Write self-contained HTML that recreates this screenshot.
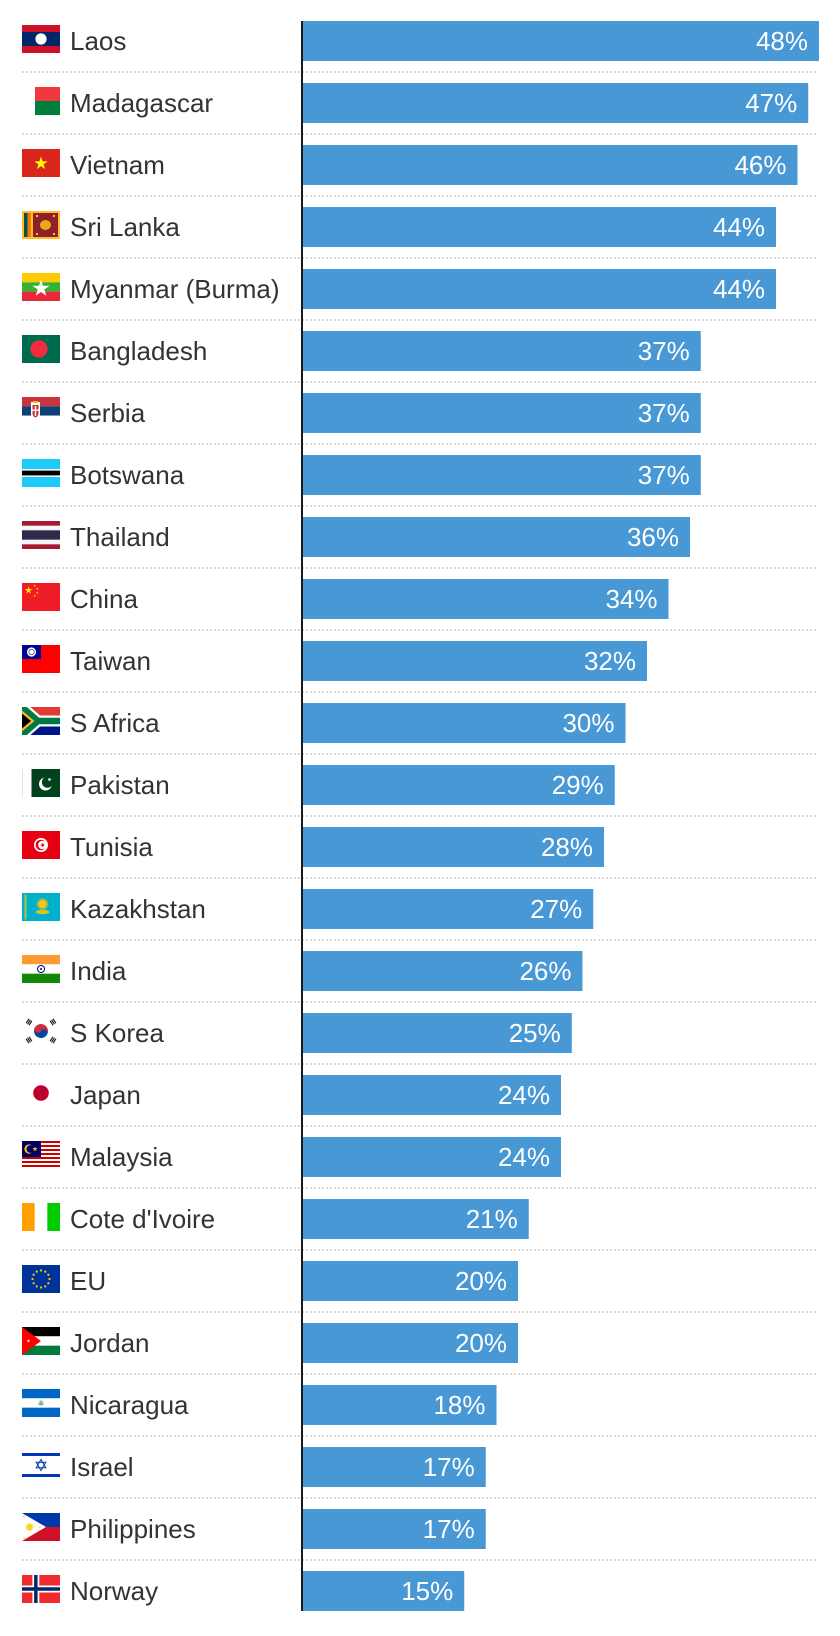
<!DOCTYPE html>
<html><head><meta charset="utf-8"><style>
html,body{margin:0;padding:0;background:#fff}
svg{display:block}
.n{font-family:"Liberation Sans",sans-serif;font-size:26px;fill:#333}
.v{font-family:"Liberation Sans",sans-serif;font-size:26px;fill:#fff;text-anchor:end}
.b{fill:#4898d6}
</style></head><body>
<svg width="840" height="1636" viewBox="0 0 840 1636" xmlns="http://www.w3.org/2000/svg">
<defs><polygon id="st" points="0,-1 .2245,-.309 .951,-.309 .3633,.118 .588,.809 0,.382 -.588,.809 -.3633,.118 -.951,-.309 -.2245,-.309"/>
<clipPath id="fc"><rect width="38" height="28"/></clipPath></defs>
<rect width="840" height="1636" fill="#fff"/>
<path d="M22 72H818M22 134H818M22 196H818M22 258H818M22 320H818M22 382H818M22 444H818M22 506H818M22 568H818M22 630H818M22 692H818M22 754H818M22 816H818M22 878H818M22 940H818M22 1002H818M22 1064H818M22 1126H818M22 1188H818M22 1250H818M22 1312H818M22 1374H818M22 1436H818M22 1498H818M22 1560H818" stroke="#d9d9d9" stroke-width="2" stroke-dasharray="2 2" fill="none"/>

<!-- 0 Laos -->
<g transform="translate(0,0)">
<g transform="translate(22,25)"><rect width="38" height="28" fill="#ce1126"/><rect y="7" width="38" height="14" fill="#002868"/><circle cx="19" cy="14" r="5.6" fill="#fff"/></g>
<text x="70" y="50" class="n">Laos</text><rect x="303" y="21" width="516" height="40" class="b"/><text x="808" y="50" class="v">48%</text></g>

<!-- 1 Madagascar -->
<g transform="translate(0,62)">
<g transform="translate(22,25)"><rect x="13" width="25" height="14" fill="#f0393f"/><rect x="13" y="14" width="25" height="14" fill="#007e3a"/></g>
<text x="70" y="50" class="n">Madagascar</text><rect x="303" y="21" width="505.25" height="40" class="b"/><text x="797.25" y="50" class="v">47%</text></g>

<!-- 2 Vietnam -->
<g transform="translate(0,124)">
<g transform="translate(22,25)"><rect width="38" height="28" fill="#da251d"/><use href="#st" transform="translate(19,14.5) scale(7)" fill="#ff0"/></g>
<text x="70" y="50" class="n">Vietnam</text><rect x="303" y="21" width="494.5" height="40" class="b"/><text x="786.5" y="50" class="v">46%</text></g>

<!-- 3 Sri Lanka -->
<g transform="translate(0,186)">
<g transform="translate(22,25)"><rect width="38" height="28" fill="#ffbe29"/><rect x="2" y="2" width="3.5" height="24" fill="#00534e"/><rect x="5.5" y="2" width="3.5" height="24" fill="#f57a00"/><rect x="11" y="2" width="25" height="24" fill="#8d2029"/><ellipse cx="23.5" cy="14" rx="5.5" ry="5" fill="#e8a820"/><rect x="14" y="4" width="2" height="2" fill="#ffbe29"/><rect x="31" y="4" width="2" height="2" fill="#ffbe29"/><rect x="14" y="22" width="2" height="2" fill="#ffbe29"/><rect x="31" y="22" width="2" height="2" fill="#ffbe29"/></g>
<text x="70" y="50" class="n">Sri Lanka</text><rect x="303" y="21" width="473" height="40" class="b"/><text x="765" y="50" class="v">44%</text></g>

<!-- 4 Myanmar -->
<g transform="translate(0,248)">
<g transform="translate(22,25)"><rect width="38" height="9.33" fill="#fecb00"/><rect y="9.33" width="38" height="9.34" fill="#34b233"/><rect y="18.67" width="38" height="9.33" fill="#ea2839"/><use href="#st" transform="translate(19,15.5) scale(9)" fill="#fff"/></g>
<text x="70" y="50" class="n">Myanmar (Burma)</text><rect x="303" y="21" width="473" height="40" class="b"/><text x="765" y="50" class="v">44%</text></g>

<!-- 5 Bangladesh -->
<g transform="translate(0,310)">
<g transform="translate(22,25)"><rect width="38" height="28" fill="#006a4e"/><circle cx="17" cy="14" r="8.6" fill="#f42a41"/></g>
<text x="70" y="50" class="n">Bangladesh</text><rect x="303" y="21" width="397.75" height="40" class="b"/><text x="689.75" y="50" class="v">37%</text></g>

<!-- 6 Serbia -->
<g transform="translate(0,372)">
<g transform="translate(22,25)"><rect width="38" height="9.33" fill="#c6363c"/><rect y="9.33" width="38" height="9.34" fill="#0c4076"/><rect y="18.67" width="38" height="9.33" fill="#fff"/><path d="M9 5h9v12q0 5-4.5 6q-4.5-1-4.5-6z" fill="#fff"/><path d="M10.5 8h6v8q0 3.5-3 4.5q-3-1-3-4.5z" fill="#c6363c"/><rect x="12.8" y="9" width="1.4" height="10" fill="#fff"/><rect x="10.5" y="12.5" width="6" height="1.4" fill="#fff"/><rect x="11" y="4" width="5" height="2" fill="#e8b830"/></g>
<text x="70" y="50" class="n">Serbia</text><rect x="303" y="21" width="397.75" height="40" class="b"/><text x="689.75" y="50" class="v">37%</text></g>

<!-- 7 Botswana -->
<g transform="translate(0,434)">
<g transform="translate(22,25)"><rect width="38" height="28" fill="#1ccbf7"/><rect y="10" width="38" height="8" fill="#fff"/><rect y="11.6" width="38" height="4.8" fill="#000"/></g>
<text x="70" y="50" class="n">Botswana</text><rect x="303" y="21" width="397.75" height="40" class="b"/><text x="689.75" y="50" class="v">37%</text></g>

<!-- 8 Thailand -->
<g transform="translate(0,496)">
<g transform="translate(22,25)"><rect width="38" height="28" fill="#a51931"/><rect y="4.67" width="38" height="18.66" fill="#f4f5f8"/><rect y="9.33" width="38" height="9.34" fill="#2d2a4a"/></g>
<text x="70" y="50" class="n">Thailand</text><rect x="303" y="21" width="387" height="40" class="b"/><text x="679" y="50" class="v">36%</text></g>

<!-- 9 China -->
<g transform="translate(0,558)">
<g transform="translate(22,25)"><rect width="38" height="28" fill="#ee1c25"/><use href="#st" transform="translate(6.5,7.3) scale(4.2)" fill="#ffde00"/><use href="#st" transform="translate(12.7,2.8) scale(1.4)" fill="#ffde00"/><use href="#st" transform="translate(15.2,5.8) scale(1.4)" fill="#ffde00"/><use href="#st" transform="translate(15.2,9.8) scale(1.4)" fill="#ffde00"/><use href="#st" transform="translate(12.7,12.8) scale(1.4)" fill="#ffde00"/></g>
<text x="70" y="50" class="n">China</text><rect x="303" y="21" width="365.5" height="40" class="b"/><text x="657.5" y="50" class="v">34%</text></g>

<!-- 10 Taiwan -->
<g transform="translate(0,620)">
<g transform="translate(22,25)"><rect width="38" height="28" fill="#fe0000"/><rect width="19" height="14" fill="#000095"/><circle cx="9.5" cy="7" r="4.6" fill="#fff"/><circle cx="9.5" cy="7" r="3" fill="#000095"/><circle cx="9.5" cy="7" r="2.4" fill="#fff"/></g>
<text x="70" y="50" class="n">Taiwan</text><rect x="303" y="21" width="344" height="40" class="b"/><text x="636" y="50" class="v">32%</text></g>

<!-- 11 S Africa -->
<g transform="translate(0,682)">
<g transform="translate(22,25)"><g clip-path="url(#fc)"><rect width="38" height="14" fill="#e03c31"/><rect y="14" width="38" height="14" fill="#001489"/><path d="M0 0L16 14L38 14M0 28L16 14" stroke="#fff" stroke-width="11" fill="none"/><path d="M0 0L16 14L38 14M0 28L16 14" stroke="#007749" stroke-width="6.4" fill="none"/><polygon points="0,3.5 12.5,14 0,24.5" fill="#ffb81c"/><polygon points="0,6.5 9,14 0,21.5" fill="#000"/></g></g>
<text x="70" y="50" class="n">S Africa</text><rect x="303" y="21" width="322.5" height="40" class="b"/><text x="614.5" y="50" class="v">30%</text></g>

<!-- 12 Pakistan -->
<g transform="translate(0,744)">
<g transform="translate(22,25)"><rect width="0.8" height="28" fill="#d8d8d8"/><rect x="9.5" width="28.5" height="28" fill="#01411c"/><circle cx="23.5" cy="15" r="6.5" fill="#fff"/><circle cx="25.5" cy="13.2" r="5.6" fill="#01411c"/><use href="#st" transform="translate(27.5,10.5) rotate(20) scale(2.2)" fill="#fff"/></g>
<text x="70" y="50" class="n">Pakistan</text><rect x="303" y="21" width="311.75" height="40" class="b"/><text x="603.75" y="50" class="v">29%</text></g>

<!-- 13 Tunisia -->
<g transform="translate(0,806)">
<g transform="translate(22,25)"><rect width="38" height="28" fill="#e70013"/><circle cx="19" cy="14" r="7" fill="#fff"/><circle cx="19" cy="14" r="5.3" fill="#e70013"/><circle cx="20.4" cy="14" r="4.3" fill="#fff"/><use href="#st" transform="translate(20.6,14) rotate(-90) scale(2.6)" fill="#e70013"/></g>
<text x="70" y="50" class="n">Tunisia</text><rect x="303" y="21" width="301" height="40" class="b"/><text x="593" y="50" class="v">28%</text></g>

<!-- 14 Kazakhstan -->
<g transform="translate(0,868)">
<g transform="translate(22,25)"><rect width="38" height="28" fill="#00afca"/><rect x="2.5" y="1.5" width="2" height="25" fill="#fec50c" opacity=".7"/><circle cx="20.5" cy="11" r="6" fill="#fec50c" opacity=".45"/><circle cx="20.5" cy="11" r="4" fill="#fec50c"/><ellipse cx="20.5" cy="19" rx="7" ry="2.2" fill="#fec50c" opacity=".85"/></g>
<text x="70" y="50" class="n">Kazakhstan</text><rect x="303" y="21" width="290.25" height="40" class="b"/><text x="582.25" y="50" class="v">27%</text></g>

<!-- 15 India -->
<g transform="translate(0,930)">
<g transform="translate(22,25)"><rect width="38" height="9.33" fill="#ff9933"/><rect y="9.33" width="38" height="9.34" fill="#fff"/><rect y="18.67" width="38" height="9.33" fill="#138808"/><circle cx="19" cy="14" r="3.5" fill="none" stroke="#000080" stroke-width="1"/><circle cx="19" cy="14" r="1" fill="#000080"/></g>
<text x="70" y="50" class="n">India</text><rect x="303" y="21" width="279.5" height="40" class="b"/><text x="571.5" y="50" class="v">26%</text></g>

<!-- 16 S Korea -->
<g transform="translate(0,992)">
<g transform="translate(22,25)"><g transform="translate(19,14) rotate(30)"><path d="M-7 0A7 7 0 0 1 7 0z" fill="#cd2e3a"/><path d="M-7 0A7 7 0 0 0 7 0z" fill="#0047a0"/><circle cx="-3.5" cy="0" r="3.5" fill="#cd2e3a"/><circle cx="3.5" cy="0" r="3.5" fill="#0047a0"/></g>
<g transform="translate(7,5) rotate(-56)" fill="#111"><rect x="-2.6" y="-2.3" width="5.2" height="1.1"/><rect x="-2.6" y="-0.55" width="5.2" height="1.1"/><rect x="-2.6" y="1.2" width="5.2" height="1.1"/></g>
<g transform="translate(31,5) rotate(56)" fill="#111"><rect x="-2.6" y="-2.3" width="5.2" height="1.1"/><rect x="-2.6" y="-0.55" width="5.2" height="1.1"/><rect x="-2.6" y="1.2" width="5.2" height="1.1"/></g>
<g transform="translate(7,23) rotate(56)" fill="#111"><rect x="-2.6" y="-2.3" width="5.2" height="1.1"/><rect x="-2.6" y="-0.55" width="5.2" height="1.1"/><rect x="-2.6" y="1.2" width="5.2" height="1.1"/></g>
<g transform="translate(31,23) rotate(-56)" fill="#111"><rect x="-2.6" y="-2.3" width="5.2" height="1.1"/><rect x="-2.6" y="-0.55" width="5.2" height="1.1"/><rect x="-2.6" y="1.2" width="5.2" height="1.1"/></g></g>
<text x="70" y="50" class="n">S Korea</text><rect x="303" y="21" width="268.75" height="40" class="b"/><text x="560.75" y="50" class="v">25%</text></g>

<!-- 17 Japan -->
<g transform="translate(0,1054)">
<g transform="translate(22,25)"><circle cx="19" cy="14" r="7.8" fill="#bc002d"/></g>
<text x="70" y="50" class="n">Japan</text><rect x="303" y="21" width="258" height="40" class="b"/><text x="550" y="50" class="v">24%</text></g>

<!-- 18 Malaysia -->
<g transform="translate(0,1116)">
<g transform="translate(22,25)"><rect width="38" height="28" fill="#fff"/><g fill="#cc0001"><rect y="0" width="38" height="2"/><rect y="4" width="38" height="2"/><rect y="8" width="38" height="2"/><rect y="12" width="38" height="2"/><rect y="16" width="38" height="2"/><rect y="20" width="38" height="2"/><rect y="24" width="38" height="2"/></g><rect width="19" height="16" fill="#010066"/><circle cx="7" cy="8" r="4.6" fill="#fc0"/><circle cx="8.4" cy="8" r="3.9" fill="#010066"/><use href="#st" transform="translate(13,8) scale(2.8)" fill="#fc0"/></g>
<text x="70" y="50" class="n">Malaysia</text><rect x="303" y="21" width="258" height="40" class="b"/><text x="550" y="50" class="v">24%</text></g>

<!-- 19 Cote d'Ivoire -->
<g transform="translate(0,1178)">
<g transform="translate(22,25)"><rect width="12.67" height="28" fill="#ffa000"/><rect x="25.33" width="12.67" height="28" fill="#00cc00"/></g>
<text x="70" y="50" class="n">Cote d'Ivoire</text><rect x="303" y="21" width="225.75" height="40" class="b"/><text x="517.75" y="50" class="v">21%</text></g>

<!-- 20 EU -->
<g transform="translate(0,1240)">
<g transform="translate(22,25)"><rect width="38" height="28" fill="#003399"/><g fill="#fc0"><circle cx="19" cy="5.5" r="1.1"/><circle cx="23.25" cy="6.64" r="1.1"/><circle cx="26.36" cy="9.75" r="1.1"/><circle cx="27.5" cy="14" r="1.1"/><circle cx="26.36" cy="18.25" r="1.1"/><circle cx="23.25" cy="21.36" r="1.1"/><circle cx="19" cy="22.5" r="1.1"/><circle cx="14.75" cy="21.36" r="1.1"/><circle cx="11.64" cy="18.25" r="1.1"/><circle cx="10.5" cy="14" r="1.1"/><circle cx="11.64" cy="9.75" r="1.1"/><circle cx="14.75" cy="6.64" r="1.1"/></g></g>
<text x="70" y="50" class="n">EU</text><rect x="303" y="21" width="215" height="40" class="b"/><text x="507" y="50" class="v">20%</text></g>

<!-- 21 Jordan -->
<g transform="translate(0,1302)">
<g transform="translate(22,25)"><rect width="38" height="9.33" fill="#000"/><rect y="9.33" width="38" height="9.34" fill="#fff"/><rect y="18.67" width="38" height="9.33" fill="#007a3d"/><polygon points="0,0 19,14 0,28" fill="#f00"/><use href="#st" transform="translate(6.5,14) scale(2)" fill="#fff"/></g>
<text x="70" y="50" class="n">Jordan</text><rect x="303" y="21" width="215" height="40" class="b"/><text x="507" y="50" class="v">20%</text></g>

<!-- 22 Nicaragua -->
<g transform="translate(0,1364)">
<g transform="translate(22,25)"><rect width="38" height="9.33" fill="#0067c6"/><rect y="9.33" width="38" height="9.34" fill="#fff"/><rect y="18.67" width="38" height="9.33" fill="#0067c6"/><circle cx="19" cy="14" r="3" fill="#cfe3d8"/><polygon points="19,11.5 21.6,16 16.4,16" fill="#7ab08e"/></g>
<text x="70" y="50" class="n">Nicaragua</text><rect x="303" y="21" width="193.5" height="40" class="b"/><text x="485.5" y="50" class="v">18%</text></g>

<!-- 23 Israel -->
<g transform="translate(0,1426)">
<g transform="translate(22,25)"><rect width="38" height="28" fill="#fff"/><rect y="2" width="38" height="3" fill="#0038b8"/><rect y="23" width="38" height="3" fill="#0038b8"/><polygon points="19,8.5 23.8,16.8 14.2,16.8" fill="none" stroke="#0038b8" stroke-width="1"/><polygon points="19,19.5 23.8,11.2 14.2,11.2" fill="none" stroke="#0038b8" stroke-width="1"/></g>
<text x="70" y="50" class="n">Israel</text><rect x="303" y="21" width="182.75" height="40" class="b"/><text x="474.75" y="50" class="v">17%</text></g>

<!-- 24 Philippines -->
<g transform="translate(0,1488)">
<g transform="translate(22,25)"><rect width="38" height="14" fill="#0038a8"/><rect y="14" width="38" height="14" fill="#ce1126"/><polygon points="0,0 24,14 0,28" fill="#fff"/><circle cx="7.5" cy="14" r="4" fill="#fcd116" opacity=".6"/><circle cx="7.5" cy="14" r="2.6" fill="#fcd116"/><circle cx="2" cy="3" r="0.9" fill="#fcd116"/><circle cx="2" cy="25" r="0.9" fill="#fcd116"/><circle cx="18" cy="14" r="0.9" fill="#fcd116"/></g>
<text x="70" y="50" class="n">Philippines</text><rect x="303" y="21" width="182.75" height="40" class="b"/><text x="474.75" y="50" class="v">17%</text></g>

<!-- 25 Norway -->
<g transform="translate(0,1550)">
<g transform="translate(22,25)"><rect width="38" height="28" fill="#ef2b2d"/><rect x="10.4" width="6.9" height="28" fill="#fff"/><rect y="10.5" width="38" height="7" fill="#fff"/><rect x="12.1" width="3.5" height="28" fill="#002868"/><rect y="12.25" width="38" height="3.5" fill="#002868"/></g>
<text x="70" y="50" class="n">Norway</text><rect x="303" y="21" width="161.25" height="40" class="b"/><text x="453.25" y="50" class="v">15%</text></g>

<rect x="301" y="21" width="2" height="1590" fill="#1a1a1a"/>
</svg>
</body></html>
